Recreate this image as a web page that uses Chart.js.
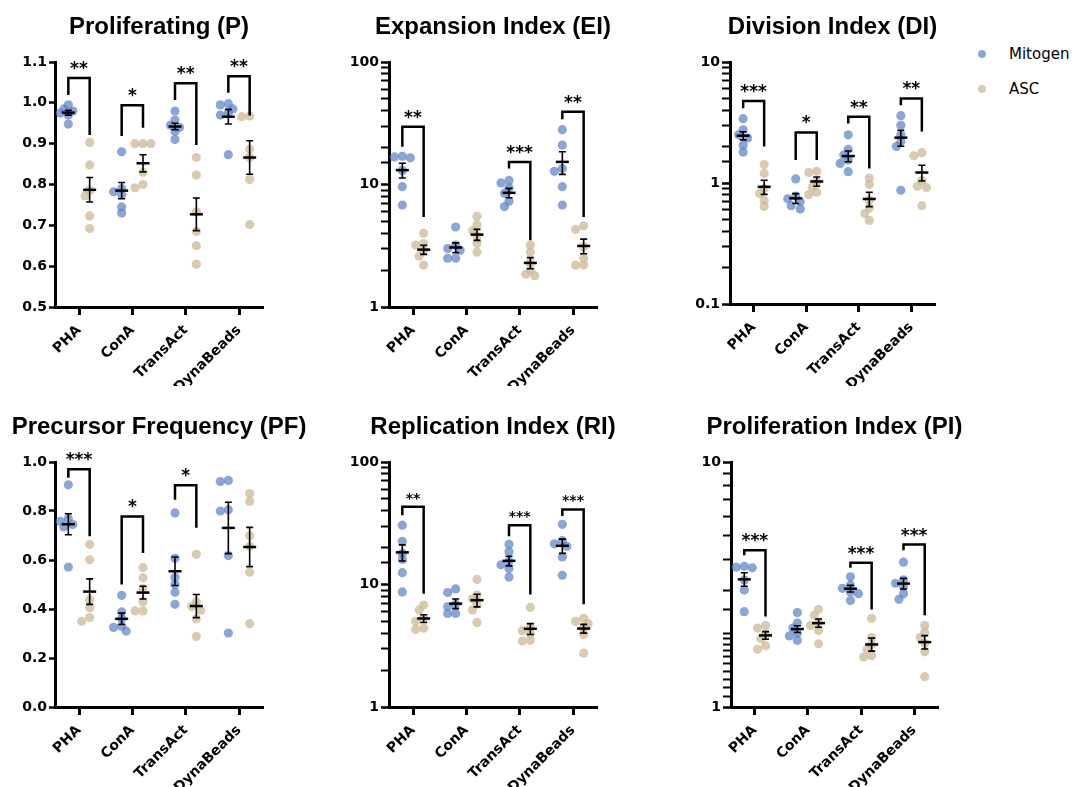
<!DOCTYPE html>
<html><head><meta charset="utf-8">
<script src="https://cdn.jsdelivr.net/npm/chart.js@4.4.1/dist/chart.umd.min.js"></script>
<style>
html,body{margin:0;padding:0;background:#fff}
body{width:1073px;height:787px;position:relative;overflow:hidden}
canvas{position:absolute}
.ldot{position:absolute;width:8px;height:8px;border-radius:50%}
.ltxt{position:absolute;font:15px 'DejaVu Sans',sans-serif;color:#000;line-height:18px}
</style>
</head><body>
<canvas id="cP" width="330" height="386" style="left:0;top:0"></canvas>
<canvas id="cEI" width="330" height="386" style="left:330px;top:0"></canvas>
<canvas id="cDI" width="300" height="386" style="left:660px;top:0"></canvas>
<canvas id="cPF" width="330" height="387" style="left:0;top:400px"></canvas>
<canvas id="cRI" width="330" height="387" style="left:330px;top:400px"></canvas>
<canvas id="cPI" width="330" height="387" style="left:660px;top:400px"></canvas>
<div class="ldot" style="left:978px;top:50px;background:rgba(89,128,199,0.7)"></div>
<div class="ltxt" style="left:1009px;top:45px">Mitogen</div>
<div class="ldot" style="left:978px;top:85px;background:rgba(202,181,142,0.7)"></div>
<div class="ltxt" style="left:1009px;top:80px">ASC</div>
<script>
// ---------- DATA ----------
const categories = ['PHA', 'ConA', 'TransAct', 'DynaBeads'];
const seriesNames = ['Mitogen', 'ASC'];

// Proliferating (P)
const P_yLabels = ['0.5','0.6','0.7','0.8','0.9','1.0','1.1'];
const P_mit = [[0.995,0.985,0.98,0.975,0.97,0.948],[0.88,0.79,0.782,0.775,0.745,0.73],[0.98,0.958,0.945,0.94,0.93,0.91],[0.998,0.995,0.985,0.975,0.97,0.873]];
const P_asc = [[0.903,0.848,0.786,0.772,0.723,0.692],[0.9,0.9,0.9,0.83,0.8,0.792],[0.866,0.823,0.733,0.685,0.65,0.605],[0.968,0.966,0.887,0.866,0.812,0.702]];
const P_mitMean = [0.976,0.785,0.942,0.966], P_mitSem = [0.006,0.02,0.008,0.018];
const P_ascMean = [0.787,0.852,0.727,0.866], P_ascSem = [0.03,0.021,0.04,0.041];
const P_sigCat = [0,1,2,3], P_sigText = ['**','*','**','**'];
const P_sigTop = [1.061,0.994,1.048,1.065], P_sigLeft = [1.019,0.919,1.007,1.025], P_sigRight = [0.921,0.939,0.897,0.969];

// Expansion Index (EI)
const EI_yLabels = ['1','10','100'];
const EI_mit = [[17.0,16.8,16.5,13.0,9.6,6.8],[4.5,3.2,3.0,2.9,2.5,2.5],[10.8,10.3,9.4,8.5,7.3,6.6],[28.0,21.0,13.5,12.8,9.6,6.8]];
const EI_asc = [[4.0,3.3,3.2,2.9,2.6,2.2],[5.5,4.7,4.2,3.8,3.3,2.8],[3.2,2.8,2.3,2.0,1.85,1.8],[4.6,4.3,3.1,2.5,2.2,2.2]];
const EI_mitMean = [13.1,3.06,8.55,15.3], EI_mitSem = [1.8,0.28,0.75,3.2];
const EI_ascMean = [2.94,3.9,2.29,3.15], EI_ascSem = [0.25,0.4,0.24,0.43];
const EI_sigCat = [0,2,3], EI_sigText = ['**','***','**'];
const EI_sigTop = [29.6,15.3,39.3], EI_sigLeft = [20.3,13.5,34.1], EI_sigRight = [5.44,3.5,5.44];

// Division Index (DI)
const DI_yLabels = ['0.1','1','10'];
const DI_mit = [[3.4,2.75,2.5,2.35,2.05,1.8],[1.08,0.78,0.74,0.70,0.65,0.61],[2.5,1.9,1.7,1.55,1.45,1.24],[3.6,3.0,2.5,2.2,2.0,0.87]];
const DI_asc = [[1.42,1.2,0.9,0.82,0.72,0.64],[1.25,1.22,1.02,0.92,0.84,0.8],[1.1,0.97,0.72,0.62,0.56,0.49],[1.78,1.68,1.05,0.94,0.92,0.65]];
const DI_mitMean = [2.46,0.747,1.67,2.37], DI_mitSem = [0.19,0.07,0.17,0.36];
const DI_ascMean = [0.93,1.03,0.738,1.22], DI_ascSem = [0.125,0.09,0.1,0.18];
const DI_sigCat = [0,1,2,3], DI_sigText = ['***','*','**','**'];
const DI_sigTop = [4.76,2.62,3.53,5.0], DI_sigLeft = [4.14,1.55,3.11,4.4], DI_sigRight = [2.0,1.55,1.32,2.66];

// Precursor Frequency (PF)
const PF_yLabels = ['0.0','0.2','0.4','0.6','0.8','1.0'];
const PF_mit = [[0.907,0.768,0.758,0.745,0.735,0.571],[0.456,0.388,0.36,0.33,0.325,0.31],[0.792,0.607,0.53,0.5,0.468,0.419],[0.925,0.92,0.805,0.8,0.618,0.302]];
const PF_asc = [[0.664,0.601,0.438,0.405,0.365,0.35],[0.569,0.528,0.483,0.43,0.392,0.392],[0.623,0.43,0.41,0.395,0.36,0.288],[0.871,0.839,0.699,0.656,0.55,0.34]];
const PF_mitMean = [0.746,0.36,0.554,0.731], PF_mitSem = [0.043,0.023,0.058,0.105];
const PF_ascMean = [0.471,0.467,0.412,0.653], PF_ascSem = [0.052,0.026,0.047,0.08];
const PF_sigCat = [0,1,2], PF_sigText = ['***','*','*'];
const PF_sigTop = [0.97,0.778,0.905], PF_sigLeft = [0.936,0.5,0.846], PF_sigRight = [0.697,0.629,0.732];

// Replication Index (RI)
const RI_yLabels = ['1','10','100'];
const RI_mit = [[30.5,22.5,18.0,16.0,12.5,8.7],[9.2,8.6,6.9,6.6,5.8,5.8],[21.3,18.5,15.5,14.5,13.5,11.5],[31.0,22.8,21.5,20.5,16.8,11.9]];
const RI_asc = [[6.8,6.2,5.3,5.0,4.4,4.3],[11.0,8.2,7.6,6.9,6.2,4.9],[6.5,4.5,4.2,4.0,3.5,3.45],[5.3,5.0,4.8,4.4,3.9,2.75]];
const RI_mitMean = [18.3,6.98,15.6,20.7], RI_mitSem = [2.75,0.63,1.4,2.75];
const RI_ascMean = [5.28,7.45,4.35,4.37], RI_ascSem = [0.38,0.88,0.44,0.36];
const RI_sigCat = [0,2,3], RI_sigText = ['**','***','***'];
const RI_sigTop = [43.1,30.4,41.0], RI_sigLeft = [36.8,24.8,36.2], RI_sigRight = [8.4,8.3,6.9];

// Proliferation Index (PI)
const PI_yLabels = ['1','10'];
const PI_mit = [[3.75,3.72,3.7,3.3,3.0,2.45],[2.43,2.2,2.1,2.0,1.95,1.87],[3.4,3.15,3.05,2.95,2.9,2.72],[3.9,3.3,3.2,3.1,2.9,2.75]];
const PI_asc = [[2.15,2.1,1.98,1.9,1.78,1.72],[2.5,2.37,2.22,2.15,2.05,1.81],[2.3,1.92,1.8,1.72,1.62,1.6],[2.15,2.02,1.92,1.82,1.68,1.33]];
const PI_mitMean = [3.32,2.08,3.04,3.19], PI_mitSem = [0.21,0.065,0.095,0.16];
const PI_ascMean = [1.96,2.2,1.8,1.84], PI_ascSem = [0.07,0.085,0.11,0.115];
const PI_sigCat = [0,2,3], PI_sigText = ['***','***','***'];
const PI_sigTop = [4.36,3.88,4.6], PI_sigLeft = [4.16,3.7,4.36], PI_sigRight = [2.34,2.5,2.37];

// ---------- STYLE / LAYOUT ----------
const COL_MIT = 'rgba(89,128,199,0.7)';
const COL_ASC = 'rgba(202,181,142,0.7)';
const GROUP_OFF = 0.2;
const X_MIN = -0.45, X_MAX = 3.45;
const PLOT_TOP = 62;
const TICK_FONT = {family:"'DejaVu Sans', sans-serif", weight:'bold', size:14};
const XTICK_FONT = {family:"'DejaVu Sans', sans-serif", weight:'bold', size:14};
const TITLE_FONT = "bold 24px 'Liberation Sans', Arial, sans-serif";

// simple dot layout for a scatter dot plot: spread overlapping dots sideways
function swarm(values, cat, side, toPx, unitPx) {
  const base = cat + side * GROUP_OFF;
  const placed = [];
  const out = new Array(values.length);
  const order = values.map((v, i) => i).sort((a, b) => values[b] - values[a]);
  for (const i of order) {
    const py = toPx(values[i]);
    let best = 0, bestD = -1;
    for (const c of [0, -4.5, 4.5, -8, 8]) {
      const d = placed.length ? Math.min(...placed.map(p => Math.hypot(p.x - c, p.y - py))) : 99;
      if (d >= 6) { best = c; bestD = d; break; }
      if (d > bestD) { bestD = d; best = c; }
    }
    placed.push({x: best, y: py});
    out[i] = {x: base + best / unitPx, y: values[i]};
  }
  return out;
}

function isPow10(v) { const l = Math.log10(v); return Math.abs(l - Math.round(l)) < 1e-9; }

function makeChart(id, p) {
  const plotH = p.bottom - PLOT_TOP, plotW = p.right - p.left;
  const unitPx = plotW / (X_MAX - X_MIN);
  const toPx = p.log
    ? v => (Math.log10(v) - Math.log10(p.min)) / (Math.log10(p.max) - Math.log10(p.min)) * plotH
    : v => (v - p.min) / (p.max - p.min) * plotH;
  const mitPts = [], ascPts = [];
  p.mit.forEach((vals, c) => mitPts.push(...swarm(vals, c, -1, toPx, unitPx)));
  p.asc.forEach((vals, c) => ascPts.push(...swarm(vals, c, 1, toPx, unitPx)));

  const overlay = {
    id: 'overlay_' + id,
    afterDatasetsDraw(chart) {
      const {ctx, scales: {x, y}, chartArea} = chart;
      ctx.save();
      ctx.strokeStyle = '#000'; ctx.fillStyle = '#000'; ctx.lineCap = 'butt';
      [[p.mitMean, p.mitSem, -1], [p.ascMean, p.ascSem, 1]].forEach(([m, s, side]) => {
        m.forEach((mv, i) => {
          const cx = x.getPixelForValue(i + side * GROUP_OFF);
          const ym = y.getPixelForValue(mv);
          const yt = y.getPixelForValue(mv + s[i]);
          const yb = y.getPixelForValue(mv - s[i]);
          ctx.lineWidth = 1.6;
          ctx.beginPath();
          ctx.moveTo(cx, yt); ctx.lineTo(cx, yb);
          ctx.moveTo(cx - 3.5, yt); ctx.lineTo(cx + 3.5, yt);
          ctx.moveTo(cx - 3.5, yb); ctx.lineTo(cx + 3.5, yb);
          ctx.stroke();
          ctx.lineWidth = 2.5;
          ctx.beginPath(); ctx.moveTo(cx - 6.5, ym); ctx.lineTo(cx + 6.5, ym); ctx.stroke();
        });
      });
      ctx.lineWidth = 2.5; ctx.lineJoin = 'miter';
      ctx.font = `bold ${p.starSize}px 'DejaVu Sans', sans-serif`;
      ctx.textAlign = 'center'; ctx.textBaseline = 'alphabetic';
      p.sigCat.forEach((c, k) => {
        const xl = x.getPixelForValue(c - GROUP_OFF), xr = x.getPixelForValue(c + GROUP_OFF);
        const yt = y.getPixelForValue(p.sigTop[k]);
        ctx.beginPath();
        ctx.moveTo(xl, y.getPixelForValue(p.sigLeft[k]));
        ctx.lineTo(xl, yt); ctx.lineTo(xr, yt);
        ctx.lineTo(xr, y.getPixelForValue(p.sigRight[k]));
        ctx.stroke();
        ctx.fillText(p.sigText[k], (xl + xr) / 2, yt - 4);
      });
      // panel title, centred over the plot area
      ctx.font = TITLE_FONT;
      ctx.fillText(p.title, (chartArea.left + chartArea.right) / 2, 34);
      ctx.restore();
    }
  };

  const canvas = document.getElementById(id);
  const yTicks = {
    autoSkip: false, color: '#000', font: TICK_FONT, padding: 2,
    callback: v => {
      const lab = p.log ? (isPow10(v) ? String(+v.toPrecision(6)) : '') : (+v).toFixed(1);
      return p.yLabels.includes(lab) ? lab : '';
    }
  };
  if (!p.log) yTicks.stepSize = p.step;

  return new Chart(canvas, {
    type: 'scatter',
    data: {
      datasets: [
        {label: seriesNames[0], data: mitPts, backgroundColor: COL_MIT, borderWidth: 0, pointRadius: 4.6, pointHoverRadius: 4.6},
        {label: seriesNames[1], data: ascPts, backgroundColor: COL_ASC, borderWidth: 0, pointRadius: 4.6, pointHoverRadius: 4.6}
      ]
    },
    options: {
      responsive: false, animation: false, events: [],
      layout: {padding: {left: 0, right: canvas.width - p.right, top: PLOT_TOP, bottom: 0}},
      plugins: {legend: {display: false}, tooltip: {enabled: false}, title: {display: false}},
      scales: {
        x: {
          type: 'linear', min: X_MIN, max: X_MAX,
          afterBuildTicks: s => { s.ticks = categories.map((_, i) => ({value: i})); },
          afterFit: s => { s.height = canvas.height - p.bottom; },
          ticks: {callback: v => categories[v] ?? '', minRotation: 45, maxRotation: 45, autoSkip: false, color: '#000', font: XTICK_FONT, padding: 7},
          grid: {drawOnChartArea: false, drawTicks: true, tickLength: 8, tickWidth: 3, tickColor: '#000'},
          border: {display: true, color: '#000', width: 3}
        },
        y: {
          type: p.log ? 'logarithmic' : 'linear', min: p.min, max: p.max,
          afterFit: s => { s.width = p.left; },
          ticks: yTicks,
          grid: {drawOnChartArea: false, drawTicks: true, tickLength: p.log ? 8 : 6,
                 tickWidth: c => (p.log && c.tick && !isPow10(c.tick.value)) ? 2 : 2.5, tickColor: '#000'},
          border: {display: true, color: '#000', width: 3}
        }
      }
    },
    plugins: [overlay]
  });
}

makeChart('cP', {title: 'Proliferating (P)', log: false, min: 0.5, max: 1.1, step: 0.1, yLabels: P_yLabels,
  mit: P_mit, asc: P_asc, mitMean: P_mitMean, mitSem: P_mitSem, ascMean: P_ascMean, ascSem: P_ascSem,
  sigCat: P_sigCat, sigText: P_sigText, sigTop: P_sigTop, sigLeft: P_sigLeft, sigRight: P_sigRight,
  left: 55, right: 263, bottom: 307, starSize: 17});
makeChart('cEI', {title: 'Expansion Index (EI)', log: true, min: 1, max: 100, yLabels: EI_yLabels,
  mit: EI_mit, asc: EI_asc, mitMean: EI_mitMean, mitSem: EI_mitSem, ascMean: EI_ascMean, ascSem: EI_ascSem,
  sigCat: EI_sigCat, sigText: EI_sigText, sigTop: EI_sigTop, sigLeft: EI_sigLeft, sigRight: EI_sigRight,
  left: 59, right: 267, bottom: 307, starSize: 17});
makeChart('cDI', {title: 'Division Index (DI)', log: true, min: 0.1, max: 10, yLabels: DI_yLabels,
  mit: DI_mit, asc: DI_asc, mitMean: DI_mitMean, mitSem: DI_mitSem, ascMean: DI_ascMean, ascSem: DI_ascSem,
  sigCat: DI_sigCat, sigText: DI_sigText, sigTop: DI_sigTop, sigLeft: DI_sigLeft, sigRight: DI_sigRight,
  left: 70, right: 275, bottom: 304, starSize: 17});
makeChart('cPF', {title: 'Precursor Frequency (PF)', log: false, min: 0, max: 1, step: 0.2, yLabels: PF_yLabels,
  mit: PF_mit, asc: PF_asc, mitMean: PF_mitMean, mitSem: PF_mitSem, ascMean: PF_ascMean, ascSem: PF_ascSem,
  sigCat: PF_sigCat, sigText: PF_sigText, sigTop: PF_sigTop, sigLeft: PF_sigLeft, sigRight: PF_sigRight,
  left: 55, right: 263, bottom: 307, starSize: 17});
makeChart('cRI', {title: 'Replication Index (RI)', log: true, min: 1, max: 100, yLabels: RI_yLabels,
  mit: RI_mit, asc: RI_asc, mitMean: RI_mitMean, mitSem: RI_mitSem, ascMean: RI_ascMean, ascSem: RI_ascSem,
  sigCat: RI_sigCat, sigText: RI_sigText, sigTop: RI_sigTop, sigLeft: RI_sigLeft, sigRight: RI_sigRight,
  left: 59, right: 267, bottom: 307, starSize: 14});
makeChart('cPI', {title: 'Proliferation Index (PI)', log: true, min: 1, max: 10, yLabels: PI_yLabels,
  mit: PI_mit, asc: PI_asc, mitMean: PI_mitMean, mitSem: PI_mitSem, ascMean: PI_ascMean, ascSem: PI_ascSem,
  sigCat: PI_sigCat, sigText: PI_sigText, sigTop: PI_sigTop, sigLeft: PI_sigLeft, sigRight: PI_sigRight,
  left: 71, right: 278, bottom: 307, starSize: 17});
</script>
</body></html>
